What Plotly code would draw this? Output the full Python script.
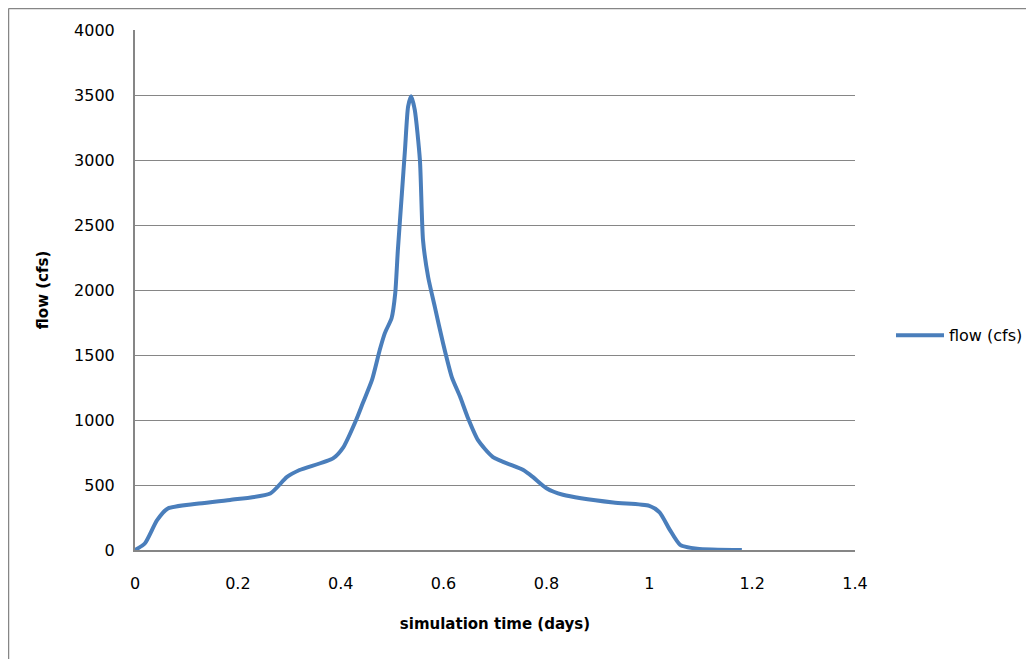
import plotly.graph_objects as go

# simulation time (days)
time_days = [0.0, 0.019, 0.043, 0.064, 0.12, 0.185, 0.263, 0.295, 0.32, 0.385, 0.405,
             0.43, 0.443, 0.461, 0.476, 0.486, 0.499, 0.506, 0.511, 0.519, 0.525, 0.531,
             0.537, 0.544, 0.554, 0.560, 0.570, 0.583, 0.599, 0.616, 0.632, 0.647, 0.667,
             0.696, 0.755, 0.774, 0.80, 0.832, 0.93, 1.00, 1.02, 1.04, 1.06, 1.093, 1.18]
# flow (cfs)
flow_cfs = [0, 50, 230, 320, 355, 385, 435, 560, 615, 705, 790,
            1000, 1130, 1310, 1540, 1670, 1785, 1975, 2300, 2745, 3080, 3410,
            3490, 3385, 3000, 2385, 2100, 1870, 1590, 1330, 1180, 1020, 845,
            715, 615, 560, 475, 425, 365, 340, 290, 155, 40, 10, 0]

x_ticks = [0, 0.2, 0.4, 0.6, 0.8, 1.0, 1.2, 1.4]
x_tick_labels = ["0", "0.2", "0.4", "0.6", "0.8", "1", "1.2", "1.4"]
y_ticks = [0, 500, 1000, 1500, 2000, 2500, 3000, 3500, 4000]

FONT = "DejaVu Sans, sans-serif"

# page offset of 8px (body margin) compensated in margins
L, T = 127, 22
PW, PH = 720, 520

fig = go.Figure()
fig.add_trace(go.Scatter(
    x=time_days, y=flow_cfs, mode="lines", name="flow (cfs)",
    line=dict(color="#4a7ebb", width=4, shape="spline", smoothing=0.6),
))

fig.update_layout(
    width=1034, height=659,
    paper_bgcolor="white", plot_bgcolor="white",
    margin=dict(l=L, r=1034 - L - PW, t=T, b=659 - T - PH, autoexpand=False),
    font=dict(family=FONT, size=16, color="#000000"),
    showlegend=True,
    legend=dict(x=1.05, y=0.413, xanchor="left", yanchor="middle",
                font=dict(family=FONT, size=16, color="#000000"),
                bgcolor="rgba(0,0,0,0)", itemwidth=48),
    xaxis=dict(range=[0, 1.4], tickvals=x_ticks, ticktext=x_tick_labels,
               showgrid=False, zeroline=False, showline=True, linecolor="#868686",
               linewidth=2, ticks="outside", ticklen=18, tickcolor="rgba(0,0,0,0)",
               title=dict(text="<b>simulation time (days)</b>", standoff=26,
                          font=dict(family=FONT, size=15))),
    yaxis=dict(range=[0, 4000], tickvals=y_ticks,
               showgrid=True, gridcolor="#868686", gridwidth=1, zeroline=False,
               showline=True, linecolor="#868686", linewidth=2,
               ticks="outside", ticklen=15, tickcolor="rgba(0,0,0,0)",
               title=dict(text="<b>flow (cfs)</b>", standoff=22,
                          font=dict(family=FONT, size=15))),
    shapes=[
        dict(type="line", xref="paper", yref="paper",
             x0=(8.5 - 135) / PW, x1=(1045 - 135) / PW,
             y0=(550 - 8.5) / PH, y1=(550 - 8.5) / PH,
             line=dict(color="#868686", width=1.5)),
        dict(type="line", xref="paper", yref="paper",
             x0=(8.5 - 135) / PW, x1=(8.5 - 135) / PW,
             y0=(550 - 8.5) / PH, y1=(550 - 670) / PH,
             line=dict(color="#868686", width=1.5)),
    ],
)

fig.write_html("out.html")
